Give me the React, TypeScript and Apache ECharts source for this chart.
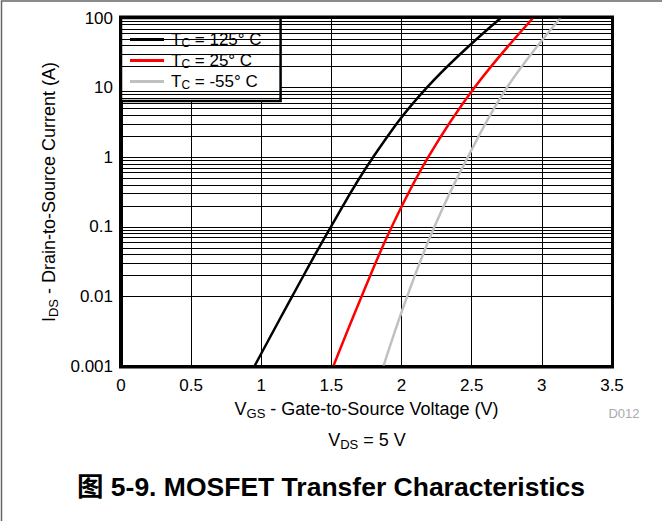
import React, { useEffect, useRef } from "react";
import * as echarts from "echarts";

const seriesNames = ["T_C = 125° C", "T_C = 25° C", "T_C = -55° C"];
const legendLabels = ["{a|T}{s|C}{a| = 125° C}", "{a|T}{s|C}{a| = 25° C}", "{a|T}{s|C}{a| = -55° C}"];
const colors = ["#000000", "#ff0000", "#c0c0c0"];

const vgs125 = [0.952, 1.22, 1.496, 1.797, 2.18, 2.707];
const ids125 = [0.001, 0.01, 0.1, 1, 10, 100];

const vgs25 = [1.514, 1.715, 1.93, 2.19, 2.52, 2.937];
const ids25 = [0.001, 0.01, 0.1, 1, 10, 100];

const vgsM55 = [1.871, 2.04, 2.234, 2.472, 2.751, 3.132];
const idsM55 = [0.001, 0.01, 0.1, 1, 10, 100];

const xTicks = [0, 0.5, 1, 1.5, 2, 2.5, 3, 3.5];
const yDecades = [0.001, 0.01, 0.1, 1, 10, 100];
const minorMultipliers = [2, 3, 4, 5, 6, 7, 8, 9];

const FONT = "'Liberation Sans', Arial, Helvetica, sans-serif";

export default function App() {
  const ref = useRef<HTMLDivElement>(null);
  useEffect(() => {
    document.body.style.margin = "0";
    const chart = echarts.init(ref.current!, null, { renderer: "svg" });
    const minorValues: number[] = [];
    yDecades.slice(0, -1).forEach((d) => minorMultipliers.forEach((m) => minorValues.push(Number((d * m).toPrecision(2)))));
    const pairs = (xs: number[], ys: number[]) => xs.map((x, i) => [x, ys[i]]);
    const curves = [pairs(vgs125, ids125), pairs(vgs25, ids25), pairs(vgsM55, idsM55)];
    const legendRich = {
      a: { fontSize: 17, fontFamily: FONT, color: "#000", lineHeight: 20 },
      s: { fontSize: 12, fontFamily: FONT, color: "#000", lineHeight: 12, padding: [7, 0, 0, 0] },
    };
    const nameRich = {
      a: { fontSize: 18, fontFamily: FONT, color: "#000", lineHeight: 22 },
      s: { fontSize: 13, fontFamily: FONT, color: "#000", lineHeight: 14, padding: [8, 0, 0, 0] },
    };
    chart.setOption({
      animation: false,
      textStyle: { fontFamily: FONT },
      grid: { left: 121, top: 18, width: 491, height: 348, show: false },
      legend: {
        show: true,
        orient: "vertical",
        left: 121,
        top: 18,
        padding: [12, 19, 10, 9],
        itemGap: 2,
        itemWidth: 34,
        itemHeight: 3,
        icon: "rect",
        backgroundColor: "#ffffff",
        borderColor: "#000",
        borderWidth: 2.5,
        data: seriesNames,
        formatter: (name: string) => legendLabels[seriesNames.indexOf(name)],
        textStyle: { rich: legendRich, padding: [0, 0, 0, 2] },
      },
      xAxis: {
        type: "value",
        min: 0,
        max: 3.5,
        interval: 0.5,
        name: "{a|V}{s|GS}{a| - Gate-to-Source Voltage (V)}",
        nameLocation: "middle",
        nameGap: 30,
        nameTextStyle: { rich: nameRich },
        axisLine: { show: true, onZero: false, lineStyle: { color: "#000", width: 3 } },
        axisTick: { show: false },
        axisLabel: {
          fontSize: 17,
          color: "#000",
          margin: 11,
          formatter: (v: number) => String(xTicks.find((t) => Math.abs(t - v) < 1e-6) ?? v),
        },
        splitLine: { show: true, lineStyle: { color: "#000", width: 1 } },
      },
      yAxis: {
        type: "log",
        logBase: 10,
        min: 0.001,
        max: 100,
        name: "{a|I}{s|DS}{a| - Drain-to-Source Current (A)}",
        nameLocation: "middle",
        nameGap: 53,
        nameRotate: 90,
        nameTextStyle: { rich: nameRich },
        axisLine: { show: true, lineStyle: { color: "#000", width: 3 } },
        axisTick: { show: false },
        axisLabel: {
          fontSize: 17,
          color: "#000",
          margin: 8,
          formatter: (v: number) => String(yDecades.find((t) => Math.abs(Math.log10(t) - Math.log10(v)) < 1e-6) ?? v),
        },
        splitLine: { show: true, lineStyle: { color: "#000", width: 1 } },
      },
      series: [
        {
          type: "line",
          name: "minor-grid",
          data: [],
          silent: true,
          markLine: {
            silent: true,
            symbol: "none",
            label: { show: false },
            lineStyle: { color: "#000", width: 1, type: "solid" },
            data: minorValues.map((v) => ({ yAxis: v })),
          },
        },
        ...curves.map((d, i) => ({
          type: "line",
          name: seriesNames[i],
          data: d,
          smooth: 0.4,
          showSymbol: false,
          symbol: "none",
          z: 5,
          lineStyle: { color: colors[i], width: 2.5 },
          itemStyle: { color: colors[i] },
        })),
      ],
      graphic: [
        {
          type: "rect",
          z: -10,
          shape: { x: 1.5, y: 1, width: 700, height: 600 },
          style: { fill: "none", stroke: "#666", lineWidth: 1.5 },
        },
        {
          type: "rect",
          z: 100,
          shape: { x: 120.5, y: 17, width: 492, height: 350 },
          style: { fill: "none", stroke: "#000", lineWidth: 3 },
        },
        {
          type: "text",
          x: 624,
          y: 413,
          style: { text: "D012", fontSize: 13, fill: "#aaaaaa", fontFamily: FONT, align: "center", verticalAlign: "middle" },
        },
        {
          type: "text",
          x: 367,
          y: 440,
          style: {
            text: "{b|V}{t|DS}{b| = 5 V}",
            align: "center",
            verticalAlign: "middle",
            rich: {
              b: { fontSize: 18, fontFamily: FONT, fill: "#000", lineHeight: 20 },
              t: { fontSize: 13, fontFamily: FONT, fill: "#000", lineHeight: 14, padding: [8, 0, 0, 0] },
            },
          },
        },
        {
          type: "text",
          x: 331,
          y: 487,
          style: {
            text: "图 5-9. MOSFET Transfer Characteristics",
            fontSize: 26.5,
            fontWeight: "bold",
            fontFamily: "'Liberation Sans', Arial, 'Noto Sans CJK SC', sans-serif",
            fill: "#000",
            align: "center",
            verticalAlign: "middle",
          },
        },
      ],
    });
    return () => chart.dispose();
  }, []);
  return <div ref={ref} style={{ position: "absolute", left: 0, top: 0, width: 662, height: 521 }} />;
}
